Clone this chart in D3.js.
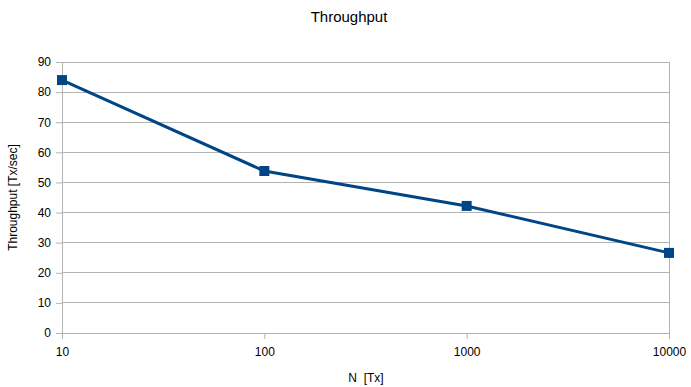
<!DOCTYPE html>
<html>
<head>
<meta charset="utf-8">
<script src="https://cdn.jsdelivr.net/npm/d3@7"></script>
<style>
  body { margin: 0; background: #fff; }
  svg text { font-family: "Liberation Sans", Arial, sans-serif; fill: #000; }
</style>
</head>
<body>
<div id="chart"></div>
<script>
// data
const txCounts = [10, 100, 1000, 10000];
const throughput = [84, 53.8, 42.2, 26.6];
const yTicks = [0, 10, 20, 30, 40, 50, 60, 70, 80, 90];

const width = 691, height = 387;
const margin = { top: 62, right: 22, bottom: 54, left: 62 };
const plotW = width - margin.left - margin.right;
const plotH = height - margin.top - margin.bottom;

const svg = d3.select("#chart").append("svg")
  .attr("width", width)
  .attr("height", height);

const g = svg.append("g")
  .attr("transform", "translate(" + margin.left + "," + margin.top + ")");

const x = d3.scaleLog().domain([10, 10000]).range([0, plotW]);
const y = d3.scaleLinear().domain([0, 90]).range([plotH, 0]);

// horizontal grid
g.append("g").selectAll("line")
  .data(yTicks)
  .enter().append("line")
  .attr("x1", 0).attr("x2", plotW)
  .attr("y1", d => y(d)).attr("y2", d => y(d))
  .attr("stroke", "#b3b3b3").attr("stroke-width", 1)
  .attr("shape-rendering", "crispEdges");

// right border line
g.append("line")
  .attr("x1", plotW).attr("x2", plotW)
  .attr("y1", 0).attr("y2", plotH)
  .attr("stroke", "#b3b3b3")
  .attr("shape-rendering", "crispEdges");

// y axis
const yAxis = g.append("g")
  .call(d3.axisLeft(y).tickValues(yTicks).tickSize(6).tickPadding(5));
yAxis.select(".domain").attr("stroke", "#b3b3b3");
yAxis.selectAll(".tick line").attr("stroke", "#b3b3b3");
yAxis.selectAll("text").style("font-size", "12px");

// x axis
const xAxis = g.append("g")
  .attr("transform", "translate(0," + plotH + ")")
  .call(d3.axisBottom(x).tickValues(txCounts).tickFormat(d3.format("d")).tickSize(6).tickPadding(8));
xAxis.select(".domain").attr("stroke", "#b3b3b3");
xAxis.selectAll(".tick line").attr("stroke", "#b3b3b3");
xAxis.selectAll("text").style("font-size", "12px");

// line
const pts = txCounts.map((d, i) => [d, throughput[i]]);
g.append("path")
  .datum(pts)
  .attr("fill", "none")
  .attr("stroke", "#004586")
  .attr("stroke-width", 3)
  .attr("d", d3.line().x(d => x(d[0])).y(d => y(d[1])));

// square markers
g.selectAll(".marker")
  .data(pts)
  .enter().append("rect")
  .attr("class", "marker")
  .attr("x", d => x(d[0]) - 5)
  .attr("y", d => y(d[1]) - 5)
  .attr("width", 10).attr("height", 10)
  .attr("fill", "#004586");

// title
svg.append("text")
  .attr("x", 349).attr("y", 22)
  .attr("text-anchor", "middle")
  .style("font-size", "15px")
  .text("Throughput");

// axis titles
svg.append("text")
  .attr("x", 366).attr("y", 382)
  .attr("text-anchor", "middle")
  .style("font-size", "12px")
  .attr("xml:space", "preserve")
  .text("N  [Tx]");

svg.append("text")
  .attr("transform", "translate(17," + (margin.top + plotH / 2) + ") rotate(-90)")
  .attr("text-anchor", "middle")
  .style("font-size", "12px")
  .text("Throughput [Tx/sec]");
</script>
</body>
</html>
